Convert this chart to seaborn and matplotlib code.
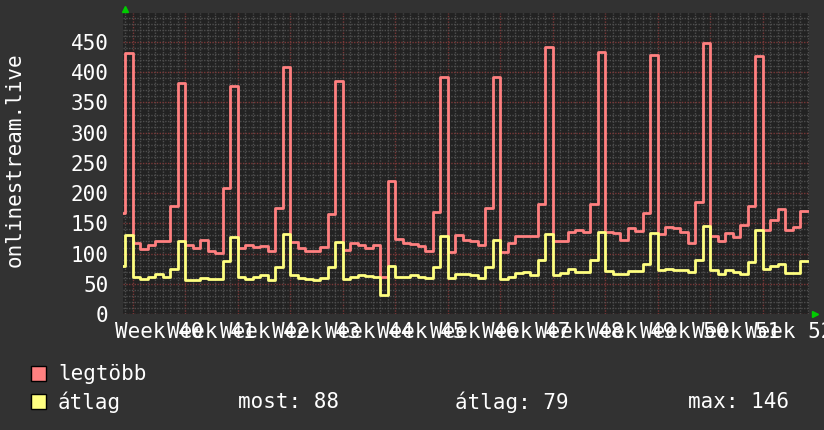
import matplotlib
matplotlib.use("Agg")
import matplotlib.pyplot as plt
import seaborn as sns
import pandas as pd
from matplotlib.ticker import FixedLocator, MultipleLocator, NullFormatter
from matplotlib.patches import Rectangle

# ---------------- data (daily values, day 0 = start of Week 40) ----------------
days = list(range(-2, 90))
legtobb = [167, 432,
           118, 108, 114, 121, 121, 178, 382,
           114, 109, 122, 105, 101, 209, 377,
           110, 114, 111, 112, 104, 176, 409,
           119, 109, 104, 104, 111, 165, 385,
           106, 118, 114, 110, 114, 62, 220,
           124, 118, 116, 112, 104, 168, 392,
           102, 131, 122, 121, 114, 175, 392,
           103, 117, 129, 129, 129, 182, 441,
           121, 121, 136, 139, 136, 182, 433,
           136, 134, 122, 143, 138, 167, 429,
           132, 144, 142, 136, 118, 186, 449,
           129, 121, 134, 128, 148, 178, 427,
           139, 156, 174, 139, 144, 171]
atlag = [80, 131,
         61, 58, 61, 66, 62, 75, 121,
         57, 56, 60, 58, 58, 87, 128,
         62, 58, 62, 64, 57, 77, 132,
         64, 59, 58, 57, 60, 78, 119,
         58, 61, 65, 63, 62, 32, 79,
         62, 61, 64, 62, 59, 78, 129,
         59, 67, 66, 65, 60, 77, 122,
         58, 61, 68, 69, 64, 89, 133,
         65, 68, 74, 69, 69, 90, 136,
         71, 66, 66, 71, 71, 82, 134,
         73, 74, 72, 73, 69, 89, 146,
         73, 66, 72, 69, 67, 86, 139,
         75, 79, 82, 68, 68, 88]
week_numbers = list(range(40, 53))
week_labels = [f"Week {w}" for w in week_numbers]
y_ticks = list(range(0, 500, 50))
series_names = ["legtöbb", "átlag"]
stats_labels = ["most: 88", "átlag: 79", "max: 146"]
y_title = "onlinestream.live"

# ---------------- styling ----------------
BG = "#323232"
PLOT_BG = "#222222"
RED = "#ff8080"
YEL = "#ffff80"
MAJOR_GRID = "#7a3838"
MINOR_GRID = "#4e4e4e"
FS = 15

sns.set_theme(style="dark")
plt.rcParams["font.family"] = ["DejaVu Sans Mono", "DejaVu Sans"]

W, H = 824, 430
fig = plt.figure(figsize=(W / 100, H / 100), dpi=100, facecolor=BG)
L, R, T, B = 123, 809, 13, 314
ax = fig.add_axes([L / W, 1 - B / H, (R - L) / W, (B - T) / H])
ax.set_facecolor(PLOT_BG)

# step data: each daily value lasts until the next day
end_day = days[-1] + 1
df = pd.DataFrame({
    "day": days + [end_day] + days + [end_day],
    "value": legtobb + [legtobb[-1]] + atlag + [atlag[-1]],
    "series": [series_names[0]] * (len(days) + 1) + [series_names[1]] * (len(days) + 1),
})
sns.lineplot(data=df, x="day", y="value", hue="series", palette=[RED, YEL],
             drawstyle="steps-post", linewidth=2.0, estimator=None, sort=False,
             legend=False, ax=ax, zorder=3)

ax.set_xlim(-1.3, 90.15)
ax.set_ylim(0, 498)

# grid
week_starts = [7 * i for i in range(len(week_numbers))]
ax.xaxis.set_major_locator(FixedLocator(week_starts))
ax.xaxis.set_minor_locator(MultipleLocator(1))
ax.xaxis.set_major_formatter(NullFormatter())
ax.yaxis.set_major_locator(FixedLocator(y_ticks))
ax.yaxis.set_minor_locator(MultipleLocator(10))
ax.set_yticklabels([str(v) for v in y_ticks])
ax.grid(which="minor", color=MINOR_GRID, linestyle=(0, (1, 1)), linewidth=1.0)
ax.grid(which="major", color=MAJOR_GRID, linestyle=(0, (1, 1)), linewidth=1.0)
ax.set_axisbelow(True)
for s in ax.spines.values():
    s.set_visible(False)

ax.tick_params(axis="x", which="major", length=4, width=1, color=MAJOR_GRID, direction="out")
ax.tick_params(axis="x", which="minor", length=3, width=1, color=MINOR_GRID, direction="out")
ax.tick_params(axis="y", which="both", length=0, pad=10.5, labelsize=FS, labelcolor="white")
ax.set_xlabel("")
ax.set_ylabel("")

# week labels centred mid-week
sec = ax.secondary_xaxis("bottom")
sec.set_xticks([ws + 3.5 for ws in week_starts])
sec.set_xticklabels(week_labels)
sec.tick_params(length=0, pad=5.5, labelsize=FS, labelcolor="white")
for s in sec.spines.values():
    s.set_visible(False)

# green axis arrows
ax.plot([0.003], [1.0 + 4 / (B - T)], marker="^", color="#00cc00", markersize=5,
        transform=ax.transAxes, clip_on=False, zorder=5)
ax.plot([1.0 + 6 / (R - L)], [0.0], marker=">", color="#00cc00", markersize=5,
        transform=ax.transAxes, clip_on=False, zorder=5)

# y title
fig.text(15 / W, 1 - 160 / H, y_title, rotation=90, ha="center", va="center",
         color="white", fontsize=FS)

# legend
for i, (name, col) in enumerate(zip(series_names, [RED, YEL])):
    top = 366 + i * 28
    fig.add_artist(Rectangle((31 / W, 1 - (top + 15) / H), 15 / W, 15 / H,
                             transform=fig.transFigure, facecolor=col,
                             edgecolor="black", linewidth=1))
    fig.text(58 / W, 1 - (top + 8) / H, name, ha="left", va="center",
             color="white", fontsize=FS)
for xpx, lab in zip([238, 455, 688], stats_labels):
    fig.text(xpx / W, 1 - 402 / H, lab, ha="left", va="center",
             color="white", fontsize=FS)

fig.savefig("out.png", dpi=100, facecolor=BG)
